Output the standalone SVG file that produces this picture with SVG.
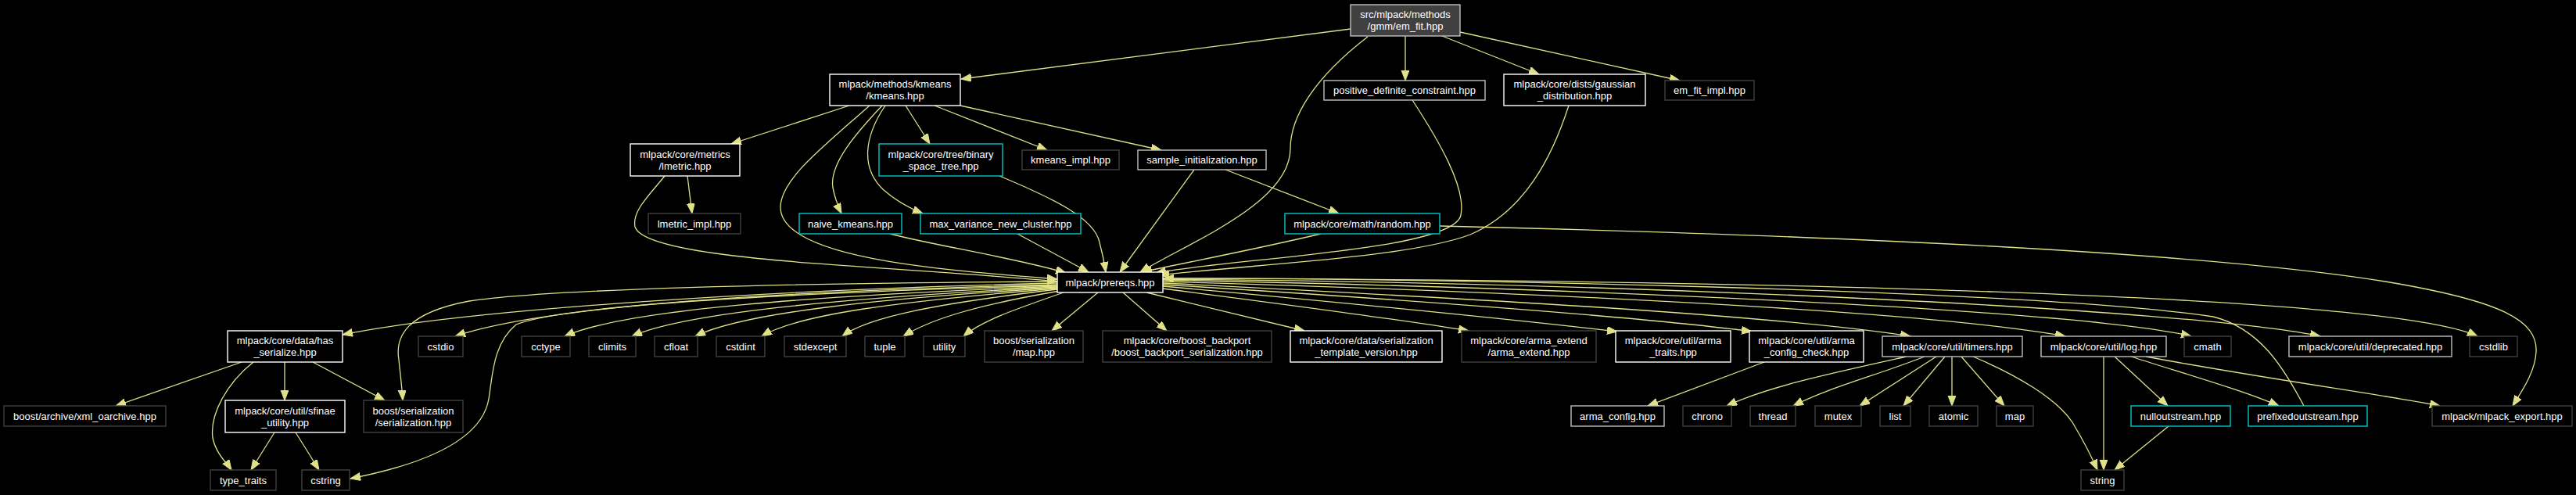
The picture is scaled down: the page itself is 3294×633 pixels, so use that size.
<svg xmlns="http://www.w3.org/2000/svg" width="3294" height="633" viewBox="0 0 3294 633">
<style>
.n rect{fill:#000;stroke-width:1.4}
.w rect{stroke:#ffffff}
.g rect{stroke:#bfbfbf}
.d rect{stroke:#404040}
.c rect{stroke:#00c8c8}
.root rect{fill:#404040;stroke:#bfbfbf}
text{font-family:"Liberation Sans",Arial,Helvetica,sans-serif;font-size:13px;fill:#ffffff;text-anchor:middle}
#edges path{fill:none;stroke:#e0e088;stroke-width:1.3;marker-end:url(#arr)}
</style>
<defs>
<marker id="arr" markerUnits="userSpaceOnUse" markerWidth="14" markerHeight="11" refX="13" refY="5" orient="auto">
<path d="M0,0 L13,5 L0,10 Z" fill="#e0e088" stroke="#e0e088" stroke-width="1"/>
</marker>
</defs>
<rect x="0" y="0" width="3294" height="633" fill="#000"/>
<g id="edges">
<path d="M1727,37 L1229,101"/>
<path d="M1749,47 C1680,100 1650,150 1650,190 C1650,260 1520,310 1458,348"/>
<path d="M1797,46 L1797,103"/>
<path d="M1844,46 L1968,95"/>
<path d="M1867,41 L2148,103"/>
<path d="M1086,135 L935,184"/>
<path d="M1112,135 C1050,190 998,230 998,265 C998,330 1200,345 1352,357"/>
<path d="M1128,135 C1095,170 1060,210 1065,240 C1068,255 1072,265 1076,273"/>
<path d="M1132,135 C1105,175 1100,215 1130,243 C1145,256 1160,265 1180,273"/>
<path d="M1158,135 L1189,184"/>
<path d="M1195,135 L1339,192"/>
<path d="M1228,135 L1485,192"/>
<path d="M879,225 L885,273"/>
<path d="M850,225 C830,250 808,270 812,290 C825,335 1150,340 1352,360"/>
<path d="M1278,225 C1350,255 1400,280 1406,310 C1410,325 1412,335 1414,348"/>
<path d="M1138,299 C1200,315 1300,330 1363,349"/>
<path d="M1301,299 L1392,348"/>
<path d="M1527,217 L1432,348"/>
<path d="M1567,217 L1712,273"/>
<path d="M1806,128 C1840,180 1875,240 1868,275 C1860,320 1580,330 1478,349"/>
<path d="M2006,135 C1985,200 1950,270 1880,300 C1800,330 1600,338 1482,352"/>
<path d="M1689,299 C1600,320 1520,335 1460,348"/>
<path d="M1841,289 C2300,300 2800,320 3050,360 C3200,385 3245,410 3243,450 C3242,475 3225,500 3213,519"/>
<path d="M2946,519 C2920,470 2890,420 2830,405 C2600,370 1800,355 1488,356"/>
<path d="M1352,362 C1000,370 600,395 438,428"/>
<path d="M1352,360 C1000,362 700,370 600,385 C520,400 505,430 510,460 C512,480 514,495 515,512"/>
<path d="M1352,365 C1000,375 720,390 660,415 C630,440 630,480 625,510 C615,570 520,598 448,612"/>
<path d="M1352,364 C1000,372 700,390 582,430"/>
<path d="M1352,366 C1050,378 800,395 722,430"/>
<path d="M1352,367 C1100,380 880,398 808,430"/>
<path d="M1352,368 C1120,382 950,400 889,430"/>
<path d="M1352,369 C1150,385 1020,402 974,430"/>
<path d="M1352,370 C1200,388 1110,405 1077,430"/>
<path d="M1355,372 C1250,390 1190,408 1155,430"/>
<path d="M1360,374 C1300,395 1255,410 1232,430"/>
<path d="M1404,374 L1345,423"/>
<path d="M1436,374 L1492,423"/>
<path d="M1466,374 L1668,423"/>
<path d="M1487,369 C1650,390 1800,410 1878,423"/>
<path d="M1487,366 C1700,385 1950,410 2068,424"/>
<path d="M1487,364 C1750,380 2100,405 2240,424"/>
<path d="M1487,362 C1800,378 2250,400 2443,430"/>
<path d="M1487,360 C1900,372 2450,395 2641,430"/>
<path d="M1487,358 C2000,368 2650,395 2802,430"/>
<path d="M1487,357 C2100,362 2800,395 2967,430"/>
<path d="M1487,356 C2200,358 3050,375 3168,430"/>
<path d="M2438,456 C2330,480 2260,495 2208,519"/>
<path d="M2461,456 C2400,480 2340,495 2293,519"/>
<path d="M2476,456 L2378,519"/>
<path d="M2487,456 L2434,519"/>
<path d="M2496,456 L2496,519"/>
<path d="M2508,456 L2563,519"/>
<path d="M2523,456 C2580,480 2630,510 2650,540 C2665,565 2675,585 2682,601"/>
<path d="M2690,456 L2690,601"/>
<path d="M2704,456 L2772,519"/>
<path d="M2725,456 C2800,480 2870,500 2914,519"/>
<path d="M2744,456 C2900,485 3050,505 3120,519"/>
<path d="M2773,545 L2704,601"/>
<path d="M2256,463 L2107,519"/>
<path d="M309,463 L148,519"/>
<path d="M324,463 C290,490 268,530 272,560 C276,580 290,592 296,601"/>
<path d="M364,463 L364,512"/>
<path d="M400,463 L492,512"/>
<path d="M351,553 L321,601"/>
<path d="M378,553 L408,601"/>
</g>
<g id="em_fit" class="n root"><rect x="1727" y="6" width="140" height="40"/><text x="1797" y="23">src/mlpack/methods</text><text x="1797" y="38">/gmm/em_fit.hpp</text></g>
<g id="kmeans" class="n w"><rect x="1061" y="95" width="167" height="40"/><text x="1144.5" y="112">mlpack/methods/kmeans</text><text x="1144.5" y="127">/kmeans.hpp</text></g>
<g id="posdef" class="n g"><rect x="1693" y="103" width="206" height="25"/><text x="1796" y="120">positive_definite_constraint.hpp</text></g>
<g id="gauss" class="n w"><rect x="1923" y="95" width="181" height="40"/><text x="2013.5" y="112">mlpack/core/dists/gaussian</text><text x="2013.5" y="127">_distribution.hpp</text></g>
<g id="emimpl" class="n d"><rect x="2129" y="103" width="114" height="25"/><text x="2186" y="120">em_fit_impl.hpp</text></g>
<g id="lmetric" class="n w"><rect x="806" y="184" width="140" height="41"/><text x="876" y="201.5">mlpack/core/metrics</text><text x="876" y="216.5">/lmetric.hpp</text></g>
<g id="bst" class="n c"><rect x="1124" y="184" width="158" height="41"/><text x="1203" y="201.5">mlpack/core/tree/binary</text><text x="1203" y="216.5">_space_tree.hpp</text></g>
<g id="kmimpl" class="n d"><rect x="1307" y="192" width="124" height="25"/><text x="1369" y="209">kmeans_impl.hpp</text></g>
<g id="sample" class="n g"><rect x="1455" y="192" width="164" height="25"/><text x="1537" y="209">sample_initialization.hpp</text></g>
<g id="lmimpl" class="n d"><rect x="829" y="273" width="118" height="26"/><text x="888" y="290.5">lmetric_impl.hpp</text></g>
<g id="naive" class="n c"><rect x="1022" y="273" width="131" height="26"/><text x="1087.5" y="290.5">naive_kmeans.hpp</text></g>
<g id="maxvar" class="n c"><rect x="1177" y="273" width="205" height="26"/><text x="1279.5" y="290.5">max_variance_new_cluster.hpp</text></g>
<g id="random" class="n c"><rect x="1643" y="273" width="198" height="26"/><text x="1742" y="290.5">mlpack/core/math/random.hpp</text></g>
<g id="prereqs" class="n w"><rect x="1352" y="348" width="135" height="26"/><text x="1419.5" y="365.5">mlpack/prereqs.hpp</text></g>
<g id="hasser" class="n w"><rect x="291" y="423" width="147" height="40"/><text x="364.5" y="440">mlpack/core/data/has</text><text x="364.5" y="455">_serialize.hpp</text></g>
<g id="cstdio" class="n d"><rect x="535" y="430" width="57" height="26"/><text x="563.5" y="447.5">cstdio</text></g>
<g id="cctype" class="n d"><rect x="667" y="430" width="62" height="26"/><text x="698" y="447.5">cctype</text></g>
<g id="climits" class="n d"><rect x="753" y="430" width="60" height="26"/><text x="783" y="447.5">climits</text></g>
<g id="cfloat" class="n d"><rect x="837" y="430" width="55" height="26"/><text x="864.5" y="447.5">cfloat</text></g>
<g id="cstdint" class="n d"><rect x="916" y="430" width="62" height="26"/><text x="947" y="447.5">cstdint</text></g>
<g id="stdexcept" class="n d"><rect x="1003" y="430" width="79" height="26"/><text x="1042.5" y="447.5">stdexcept</text></g>
<g id="tuple" class="n d"><rect x="1106" y="430" width="51" height="26"/><text x="1131.5" y="447.5">tuple</text></g>
<g id="utility" class="n d"><rect x="1181" y="430" width="53" height="26"/><text x="1207.5" y="447.5">utility</text></g>
<g id="bsmap" class="n d"><rect x="1259" y="423" width="126" height="40"/><text x="1322" y="440">boost/serialization</text><text x="1322" y="455">/map.hpp</text></g>
<g id="backport" class="n d"><rect x="1410" y="423" width="216" height="40"/><text x="1518" y="440">mlpack/core/boost_backport</text><text x="1518" y="455">/boost_backport_serialization.hpp</text></g>
<g id="stv" class="n w"><rect x="1650" y="423" width="194" height="40"/><text x="1747" y="440">mlpack/core/data/serialization</text><text x="1747" y="455">_template_version.hpp</text></g>
<g id="armaext" class="n d"><rect x="1869" y="423" width="172" height="40"/><text x="1955" y="440">mlpack/core/arma_extend</text><text x="1955" y="455">/arma_extend.hpp</text></g>
<g id="armatraits" class="n w"><rect x="2066" y="423" width="147" height="40"/><text x="2139.5" y="440">mlpack/core/util/arma</text><text x="2139.5" y="455">_traits.hpp</text></g>
<g id="armacc" class="n w"><rect x="2237" y="423" width="146" height="40"/><text x="2310" y="440">mlpack/core/util/arma</text><text x="2310" y="455">_config_check.hpp</text></g>
<g id="timers" class="n g"><rect x="2407" y="430" width="179" height="26"/><text x="2496.5" y="447.5">mlpack/core/util/timers.hpp</text></g>
<g id="log" class="n g"><rect x="2610" y="430" width="160" height="26"/><text x="2690" y="447.5">mlpack/core/util/log.hpp</text></g>
<g id="cmath" class="n d"><rect x="2793" y="430" width="60" height="26"/><text x="2823" y="447.5">cmath</text></g>
<g id="deprecated" class="n g"><rect x="2927" y="430" width="208" height="26"/><text x="3031" y="447.5">mlpack/core/util/deprecated.hpp</text></g>
<g id="cstdlib" class="n d"><rect x="3158" y="430" width="61" height="26"/><text x="3188.5" y="447.5">cstdlib</text></g>
<g id="xml" class="n d"><rect x="5" y="519" width="207" height="26"/><text x="108.5" y="536.5">boost/archive/xml_oarchive.hpp</text></g>
<g id="sfinae" class="n w"><rect x="288" y="512" width="153" height="41"/><text x="364.5" y="529.5">mlpack/core/util/sfinae</text><text x="364.5" y="544.5">_utility.hpp</text></g>
<g id="bsser" class="n d"><rect x="465" y="512" width="127" height="41"/><text x="528.5" y="529.5">boost/serialization</text><text x="528.5" y="544.5">/serialization.hpp</text></g>
<g id="armaconfig" class="n g"><rect x="2009" y="519" width="119" height="26"/><text x="2068.5" y="536.5">arma_config.hpp</text></g>
<g id="chrono" class="n d"><rect x="2152" y="519" width="62" height="26"/><text x="2183" y="536.5">chrono</text></g>
<g id="thread" class="n d"><rect x="2238" y="519" width="58" height="26"/><text x="2267" y="536.5">thread</text></g>
<g id="mutex" class="n d"><rect x="2321" y="519" width="59" height="26"/><text x="2350.5" y="536.5">mutex</text></g>
<g id="list" class="n d"><rect x="2404" y="519" width="39" height="26"/><text x="2423.5" y="536.5">list</text></g>
<g id="atomic" class="n d"><rect x="2467" y="519" width="62" height="26"/><text x="2498" y="536.5">atomic</text></g>
<g id="map" class="n d"><rect x="2553" y="519" width="47" height="26"/><text x="2576.5" y="536.5">map</text></g>
<g id="nullout" class="n c"><rect x="2725" y="519" width="127" height="26"/><text x="2788.5" y="536.5">nulloutstream.hpp</text></g>
<g id="prefixed" class="n c"><rect x="2875" y="519" width="152" height="26"/><text x="2951" y="536.5">prefixedoutstream.hpp</text></g>
<g id="export" class="n d"><rect x="3110" y="519" width="179" height="26"/><text x="3199.5" y="536.5">mlpack/mlpack_export.hpp</text></g>
<g id="typetraits" class="n d"><rect x="269" y="601" width="84" height="26"/><text x="311" y="618.5">type_traits</text></g>
<g id="cstring" class="n d"><rect x="386" y="601" width="61" height="26"/><text x="416.5" y="618.5">cstring</text></g>
<g id="string" class="n d"><rect x="2661" y="601" width="55" height="26"/><text x="2688.5" y="618.5">string</text></g>
</svg>
